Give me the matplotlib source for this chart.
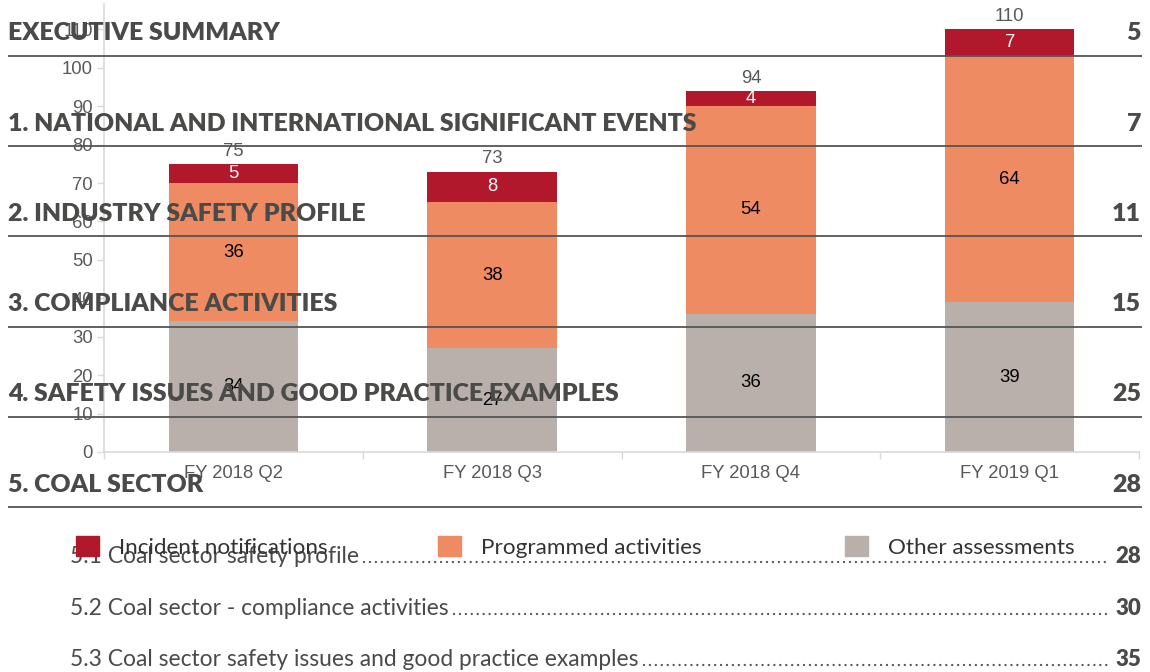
import numpy as np
import matplotlib.pyplot as plt
from matplotlib.patches import Patch

# chart data
quarters = ["FY 2018 Q2", "FY 2018 Q3", "FY 2018 Q4", "FY 2019 Q1"]
other = [34, 27, 36, 39]
programmed = [36, 38, 54, 64]
incident = [5, 8, 4, 7]
series_names = ["Incident notifications", "Programmed activities", "Other assessments"]
colors = ["#B2182B", "#EF8B62", "#B9B0AB"]

# contents page text printed over the chart
headings = ["EXECUTIVE SUMMARY",
            "1. NATIONAL AND INTERNATIONAL SIGNIFICANT EVENTS",
            "2. INDUSTRY SAFETY PROFILE",
            "3. COMPLIANCE ACTIVITIES",
            "4. SAFETY ISSUES AND GOOD PRACTICE EXAMPLES",
            "5. COAL SECTOR"]
heading_pages = ["5", "7", "11", "15", "25", "28"]
subitems = ["5.1 Coal sector safety profile",
            "5.2 Coal sector - compliance activities",
            "5.3 Coal sector safety issues and good practice examples"]
subitem_pages = ["28", "30", "35"]

W, H = 1150, 672
fig = plt.figure(figsize=(W/100, H/100), dpi=100)

def px_box(x0, y0, x1, y1):
    return [x0/W, 1 - y1/H, (x1 - x0)/W, (y1 - y0)/H]

# ---- stacked bar chart
ax = fig.add_axes(px_box(104, 4, 1139, 452))
x = np.arange(len(quarters))
other = np.array(other); programmed = np.array(programmed); incident = np.array(incident)
total = other + programmed + incident
b_other = ax.bar(x, other, 0.5, color=colors[2])
b_prog = ax.bar(x, programmed, 0.5, bottom=other, color=colors[1])
b_inc = ax.bar(x, incident, 0.5, bottom=other + programmed, color=colors[0])

fs = 13.3
lab = dict(fontsize=fs, family="Liberation Sans")
ax.bar_label(b_other, labels=[str(v) for v in other], label_type="center", color="black", **lab)
ax.bar_label(b_prog, labels=[str(v) for v in programmed], label_type="center", color="black", **lab)
ax.bar_label(b_inc, labels=[str(v) for v in incident], label_type="center", color="white", **lab)
ax.bar_label(b_inc, labels=[str(v) for v in total], padding=3, color="#595959", **lab)

ax.set_xlim(-0.5, len(quarters) - 0.5)
ax.set_ylim(0, 116.6)
ax.set_yticks(np.arange(0, 111, 10))
ax.set_xticks(x)
ax.set_xticklabels(quarters)
ax.set_xticks(np.arange(-0.5, len(quarters), 1), minor=True)
ax.tick_params(axis="x", which="major", length=0, pad=9)
ax.tick_params(axis="x", which="minor", length=5, color="#D9D9D9", width=1)
ax.tick_params(axis="y", length=5, color="#D9D9D9", width=1, pad=3)
for t in ax.get_xticklabels() + ax.get_yticklabels():
    t.set_fontsize(fs); t.set_color("#595959"); t.set_family("Liberation Sans")
for s in ["top", "right"]:
    ax.spines[s].set_visible(False)
for s in ["left", "bottom"]:
    ax.spines[s].set_color("#D9D9D9")
    ax.spines[s].set_linewidth(1.2)

# legend, one entry each as in the original layout
handles = [Patch(color=c) for c in colors]
for h, name, lx in zip(handles, series_names, [76, 438, 845]):
    fig.legend([h], [name], loc="center left", bbox_to_anchor=(lx/W, 1 - 547/H),
               frameon=False, handlelength=1.0, handleheight=1.0,
               handletextpad=0.9, borderpad=0, borderaxespad=0,
               prop=dict(family="Lato", size=16.2), labelcolor="#333333")

# ---- contents overlay
toc = fig.add_axes([0, 0, 1, 1])
toc.set_xlim(0, W); toc.set_ylim(H, 0)
toc.axis("off")
toc.patch.set_visible(False)

head_color = "#4A4A48"
head_base = [40, 131, 221, 311, 401, 492]
line_y = [56, 146, 236, 327, 417, 507]
for txt, pg, yb, yl in zip(headings, heading_pages, head_base, line_y):
    toc.text(8, yb, txt, fontsize=17.9, fontweight="heavy", family="Lato",
             color=head_color, va="baseline", ha="left")
    toc.text(1141, yb, pg, fontsize=17.9, fontweight="heavy", family="Lato",
             color=head_color, va="baseline", ha="right")
    toc.plot([8, 1142], [yl, yl], color="#555555", lw=1.3, solid_capstyle="butt")

sub_base = [563, 615, 666]
sub_texts = []
for txt, pg, yb in zip(subitems, subitem_pages, sub_base):
    t = toc.text(70, yb, txt, fontsize=16.4, family="Lato", color="#4A4A48",
                 va="baseline", ha="left")
    n = toc.text(1141, yb, pg, fontsize=16, fontweight="heavy", family="Lato",
                 color=head_color, va="baseline", ha="right")
    sub_texts.append((t, n, yb))

# dotted leaders between entry and page number
fig.canvas.draw()
r = fig.canvas.get_renderer()
inv = toc.transData.inverted()
for t, n, yb in sub_texts:
    x_end = inv.transform(t.get_window_extent(r).p1)[0]
    x_num = inv.transform(n.get_window_extent(r).p0)[0]
    toc.plot([x_end + 5, x_num - 6], [yb - 1, yb - 1], color="#555555", lw=1.7,
             linestyle=(0, (0.01, 2.5)), dash_capstyle="round")

plt.savefig("out.png", dpi=100)
